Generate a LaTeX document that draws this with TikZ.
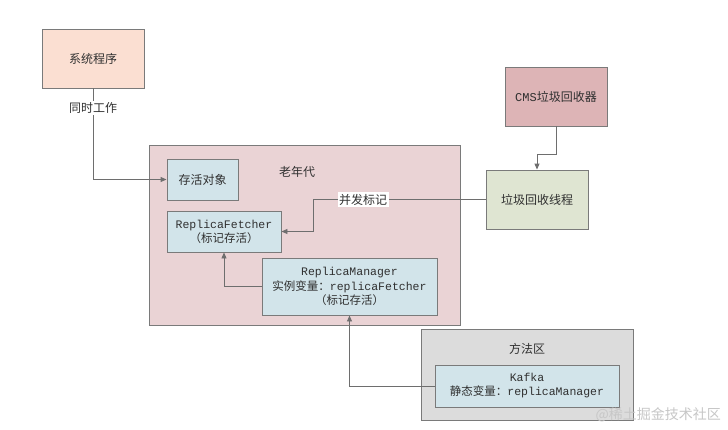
\documentclass[tikz,border=0pt]{standalone}
\usepackage{fontspec}
\setmainfont{Noto Sans CJK SC}
\newfontfamily\monof{Liberation Mono}
\usetikzlibrary{arrows.meta}
\definecolor{bordc}{HTML}{7A7A7A}
\definecolor{linec}{HTML}{6E6E6E}
\definecolor{txtc}{HTML}{303030}
\definecolor{sysfill}{HTML}{FBDFD2}
\definecolor{oldfill}{HTML}{EAD3D5}
\definecolor{bluefill}{HTML}{D2E4EA}
\definecolor{cmsfill}{HTML}{DDB4B6}
\definecolor{gcfill}{HTML}{DFE5D2}
\definecolor{methfill}{HTML}{DCDCDC}
\tikzset{
  box/.style={draw=bordc, line width=0.9pt, rectangle, inner sep=0pt, align=center, text=txtc, font=\fontsize{12}{14}\selectfont},
  conn/.style={draw=linec, line width=0.9pt, -{Triangle[length=6pt,width=5pt]}},
  plain/.style={draw=linec, line width=0.9pt},
  lbl/.style={fill=white, inner sep=1.5pt, text=txtc, font=\fontsize{12}{14}\selectfont},
  ttl/.style={inner sep=0pt, text=txtc, font=\fontsize{12}{14}\selectfont},
}
\begin{document}
\begin{tikzpicture}[x=1pt,y=-1pt]
\useasboundingbox[fill=white] (0,0) rectangle (728,429);
% containers
\node[box, fill=oldfill, minimum width=311pt, minimum height=180pt] (old) at (304.5,235) {};
\node[box, fill=methfill, minimum width=212pt, minimum height=91pt] (meth) at (527,374.5) {};
\node[ttl] (oldlbl) at (297,172) {老年代};
\node[ttl] (methlbl) at (527,349) {方法区};
% boxes
\node[box, fill=sysfill, minimum width=102pt, minimum height=59pt] (sys) at (93,58.5) {系统程序};
\node[box, fill=bluefill, minimum width=71pt, minimum height=41pt] (live) at (202.5,179.5) {存活对象};
\node[box, fill=bluefill, minimum width=114pt, minimum height=41pt, font=\fontsize{11.5}{14}\selectfont] (rf) at (224,231.5) {{\monof ReplicaFetcher}\\（标记存活）};
\node[box, fill=bluefill, minimum width=175pt, minimum height=57pt, font=\fontsize{11.5}{14.5}\selectfont] (rm) at (349.5,286.5) {{\monof ReplicaManager}\\实例变量：{\monof replicaFetcher}\\（标记存活）};
\node[box, fill=cmsfill, minimum width=102pt, minimum height=59pt] (cms) at (556,96.5) {{\monof CMS}垃圾回收器};
\node[box, fill=gcfill, minimum width=102pt, minimum height=59pt] (gc) at (537,199.5) {垃圾回收线程};
\node[box, fill=bluefill, minimum width=184pt, minimum height=42pt, font=\fontsize{11.5}{14}\selectfont] (kafka) at (527,386) {{\monof Kafka}\\静态变量：{\monof replicaManager}};
% connectors
\draw[conn] (sys.south) |- (live.west);
\node[lbl] (l1) at (93,108) {同时工作};
\draw[conn] (cms.south) -- ++(0,28) -| (gc.north);
\coordinate (bend) at (313,199.5);
\draw[conn] (gc.west) -- (bend) |- (rf.east);
\node[lbl] (l2) at (363,199.5) {并发标记};
\draw[conn] (rm.west) -| (rf.south);
\draw[conn] (kafka.west) -| (rm.south);
% watermark
\node[inner sep=0pt, anchor=east, text=black!22, font=\fontsize{14}{16}\selectfont] (wm) at (721,415) {@稀土掘金技术社区};
\end{tikzpicture}
\end{document}
